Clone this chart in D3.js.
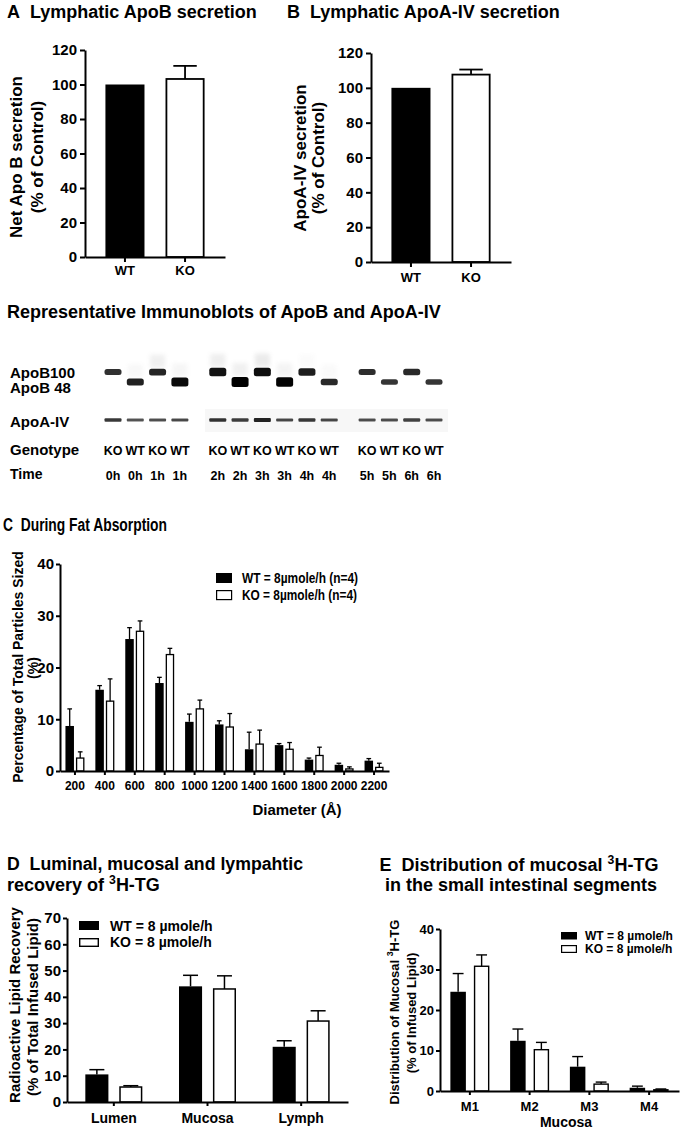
<!DOCTYPE html>
<html><head><meta charset="utf-8">
<script src="https://cdn.jsdelivr.net/npm/d3@7"></script>
<style>
body{margin:0;background:#fff}
svg{display:block;background:#fff}
text{font-family:"Liberation Sans",Arial,Helvetica,sans-serif;font-weight:bold;fill:#000;white-space:pre}
text.narrow{font-family:"Liberation Sans Narrow","Arial Narrow","Liberation Sans",Arial,sans-serif}
</style></head><body>
<svg id="fig" width="688" height="1132"></svg>
<script>
// ---------------- DATA ----------------
// Panels A & B
const abGroups = ["WT", "KO"];
const apoBSecretion = [100, 103.2];
const apoBSecretionErr = [0, 7.6];
const apoA4Secretion = [100, 107.6];
const apoA4SecretionErr = [0, 2.9];
const abTicks = [0, 20, 40, 60, 80, 100, 120];

// Immunoblot lanes
const laneGenotype = ["KO","WT","KO","WT","KO","WT","KO","WT","KO","WT","KO","WT","KO","WT"];
const laneTime = ["0h","0h","1h","1h","2h","2h","3h","3h","4h","4h","5h","5h","6h","6h"];
const laneGel = [0,0,0,0,1,1,1,1,1,1,2,2,2,2];
const apoBSignal = [0.35, 0.55, 0.5, 0.85, 0.75, 1.0, 0.8, 0.95, 0.6, 0.45, 0.4, 0.3, 0.45, 0.3];
const apoBSmear = [0, 0.2, 0.4, 0.25, 0.45, 0.4, 0.55, 0.3, 0.1, 0.15, 0, 0, 0, 0];
const apoA4Signal = [0.6, 0.35, 0.4, 0.45, 0.65, 0.55, 0.8, 0.45, 0.6, 0.45, 0.4, 0.4, 0.5, 0.4];

// Panel C
const diameters = ["200","400","600","800","1000","1200","1400","1600","1800","2000","2200"];
const wtSize = [8.7, 15.7, 25.5, 17.0, 9.5, 9.0, 4.2, 5.0, 2.2, 1.2, 2.0];
const wtSizeErr = [3.3, 0.8, 2.2, 1.1, 1.5, 0.7, 3.3, 0.3, 0.3, 0.3, 0.4];
const koSize = [2.5, 13.5, 27.0, 22.5, 12.0, 8.5, 5.2, 4.2, 3.0, 0.4, 0.7];
const koSizeErr = [1.2, 4.3, 2.0, 1.2, 1.7, 2.6, 2.7, 1.3, 1.6, 0.4, 0.8];
const sizeTicks = [0, 10, 20, 30, 40];

// Panel D
const recoveryCats = ["Lumen", "Mucosa", "Lymph"];
const wtRecovery = [10.5, 44.0, 21.0];
const wtRecoveryErr = [1.8, 4.2, 2.3];
const koRecovery = [5.7, 43.0, 30.8];
const koRecoveryErr = [0.5, 5.0, 3.9];
const recoveryTicks = [0, 10, 20, 30, 40, 50, 60, 70];

// Panel E
const segments = ["M1", "M2", "M3", "M4"];
const wtSegment = [24.5, 12.4, 6.0, 0.8];
const wtSegmentErr = [4.5, 2.9, 2.5, 0.4];
const koSegment = [30.8, 10.2, 1.7, 0.3];
const koSegmentErr = [2.8, 1.8, 0.5, 0.2];
const segmentTicks = [0, 10, 20, 30, 40];

// ---------------- DRAWING ----------------
const NB = "\u00a0\u00a0";
const svg = d3.select("#fig");
const defs = svg.append("defs");
defs.append("filter").attr("id","blur").attr("x","-30%").attr("y","-100%").attr("width","160%").attr("height","300%")
  .append("feGaussianBlur").attr("stdDeviation", 0.7);
defs.append("filter").attr("id","blur2").attr("x","-30%").attr("y","-100%").attr("width","160%").attr("height","300%")
  .append("feGaussianBlur").attr("stdDeviation", 2.2);

function txt(g, x, y, s, size, o = {}) {
  const t = g.append("text").attr("x", x).attr("y", y).attr("font-size", size);
  if (o.anchor) t.attr("text-anchor", o.anchor);
  if (o.cls) t.attr("class", o.cls);
  if (o.len) t.attr("textLength", o.len).attr("lengthAdjust", "spacingAndGlyphs");
  if (o.rot) t.attr("transform", `rotate(-90 ${x} ${y})`).attr("dy", "0.36em");
  if (Array.isArray(s)) {
    s.forEach(p => {
      const ts = t.append("tspan").text(p.t);
      if (p.sup) ts.attr("dy", -size * 0.4).attr("font-size", size * 0.68);
      if (p.after) ts.attr("dy", size * 0.4);
    });
  } else t.text(s);
  return t;
}

function axes(g, x, y, ticks, o) {
  const gy = g.append("g").attr("transform", `translate(${o.left},0)`)
    .call(d3.axisLeft(y).tickValues(ticks).tickSize(o.tick).tickSizeOuter(0).tickPadding(o.pad));
  gy.attr("font-size", o.yFont);
  gy.select(".domain").attr("stroke-width", o.sw).attr("stroke", "#000");
  gy.selectAll(".tick line").attr("stroke-width", o.sw).attr("stroke", "#000");
  gy.selectAll(".tick text").attr("fill", "#000");
  if (o.yNarrow) gy.selectAll(".tick text").attr("class", "narrow");
  const gx = g.append("g").attr("transform", `translate(0,${y(0)})`)
    .call(d3.axisBottom(x).tickSize(o.tick).tickSizeOuter(0).tickPadding(o.xpad));
  gx.attr("font-size", o.xFont);
  gx.select(".domain").attr("stroke-width", o.sw).attr("stroke", "#000");
  gx.selectAll(".tick line").attr("stroke-width", o.sw).attr("stroke", "#000");
  gx.selectAll(".tick text").attr("fill", "#000");
  gy.raise();
}

function bars(g, series, x0, x1, y, o) {
  series.forEach(s => {
    const gs = g.append("g");
    s.values.forEach((v, i) => {
      const cat = x0.domain()[i];
      const bx = x0(cat) + x1(s.name);
      const bw = x1.bandwidth();
      const fill = s.fill(i);
      gs.append("rect")
        .attr("x", bx + (fill === "#000" ? 0 : o.sw / 2))
        .attr("y", y(v))
        .attr("width", bw - (fill === "#000" ? 0 : o.sw))
        .attr("height", y(0) - y(v))
        .attr("fill", fill)
        .attr("stroke", fill === "#000" ? "none" : "#000")
        .attr("stroke-width", o.sw);
      const e = s.errs[i];
      if (e > 0) {
        const cx = bx + bw / 2, cw = bw * o.cap;
        gs.append("line").attr("x1", cx).attr("x2", cx).attr("y1", y(v)).attr("y2", y(v + e))
          .attr("stroke", "#000").attr("stroke-width", o.esw);
        gs.append("line").attr("x1", cx - cw / 2).attr("x2", cx + cw / 2).attr("y1", y(v + e)).attr("y2", y(v + e))
          .attr("stroke", "#000").attr("stroke-width", o.esw);
      }
    });
  });
}

// ===== Panel A =====
(function () {
  const g = svg.append("g");
  txt(g, 7, 18, "A" + NB + "Lymphatic ApoB secretion", 18);
  const y = d3.scaleLinear().domain([0, 120]).range([257, 50]);
  const x = d3.scaleBand().domain(abGroups).range([85, 225]).paddingInner(0.35).paddingOuter(0.34);
  const x1 = d3.scaleBand().domain(["s"]).range([0, x.bandwidth()]);
  bars(g, [{ name: "s", values: apoBSecretion, errs: apoBSecretionErr, fill: i => i === 0 ? "#000" : "#fff" }], x, x1, y, { sw: 1.8, esw: 1.8, cap: 0.6 });
  axes(g, x, y, abTicks, { left: 85, tick: 5, pad: 3, xpad: 4, sw: 2, yFont: 15, xFont: 13 });
  txt(g, 16, 157, "Net Apo B secretion", 17, { anchor: "middle", rot: true });
  txt(g, 37, 157, "(% of Control)", 17, { anchor: "middle", rot: true });
})();

// ===== Panel B =====
(function () {
  const g = svg.append("g");
  txt(g, 287, 18, "B" + NB + "Lymphatic ApoA-IV secretion", 18);
  const y = d3.scaleLinear().domain([0, 120]).range([262, 53]);
  const x = d3.scaleBand().domain(abGroups).range([371, 511]).paddingInner(0.35).paddingOuter(0.34);
  const x1 = d3.scaleBand().domain(["s"]).range([0, x.bandwidth()]);
  bars(g, [{ name: "s", values: apoA4Secretion, errs: apoA4SecretionErr, fill: i => i === 0 ? "#000" : "#fff" }], x, x1, y, { sw: 1.8, esw: 1.8, cap: 0.6 });
  axes(g, x, y, abTicks, { left: 371, tick: 5, pad: 3, xpad: 6, sw: 2, yFont: 15, xFont: 13 });
  txt(g, 300, 158, "ApoA-IV secretion", 17, { anchor: "middle", rot: true });
  txt(g, 318, 158, "(% of Control)", 17, { anchor: "middle", rot: true });
})();

// ===== Immunoblots =====
(function () {
  const g = svg.append("g");
  txt(g, 7, 318, "Representative Immunoblots of ApoB and ApoA-IV", 18);
  txt(g, 10, 378, "ApoB100", 15);
  txt(g, 10, 393, "ApoB 48", 15);
  txt(g, 10, 427, "ApoA-IV", 15);
  txt(g, 10, 455, "Genotype", 15);
  txt(g, 10, 479, "Time", 14);
  const slot = laneGenotype.map((d, i) => i + laneGel[i] * 0.7);
  const xl = d3.scaleLinear().domain([0, 14.4]).range([113, 434]);
  const row = d3.scaleOrdinal().domain(["KO", "WT"]).range([372, 382]);
  const thick = d3.scaleLinear().domain([0, 1]).range([3.5, 10]);
  const thickA = d3.scaleLinear().domain([0, 1]).range([2.2, 4.5]);
  g.append("rect").attr("x", 205).attr("y", 409).attr("width", 243).attr("height", 23).attr("fill", "#f7f7f7");
  const lanes = g.append("g");
  laneGenotype.forEach((gt, i) => {
    const cx = xl(slot[i]);
    const cy = row(gt);
    const h = thick(apoBSignal[i]);
    if (apoBSmear[i] > 0) {
      lanes.append("rect").attr("x", cx - 7.5).attr("y", cy - h / 2 - 14).attr("width", 15).attr("height", 13)
        .attr("fill", "#888").attr("opacity", apoBSmear[i] * 0.3).attr("filter", "url(#blur2)");
    }
    lanes.append("rect").attr("x", cx - 8.5).attr("y", cy - h / 2).attr("width", 17).attr("height", h)
      .attr("rx", 2.5).attr("fill", "#000").attr("opacity", 0.7 + apoBSignal[i] * 0.3).attr("filter", "url(#blur)");
    const ha = thickA(apoA4Signal[i]);
    lanes.append("rect").attr("x", cx - 8.5).attr("y", 420 - ha / 2).attr("width", 17).attr("height", ha)
      .attr("rx", 1).attr("fill", "#111").attr("opacity", 0.55 + apoA4Signal[i] * 0.45).attr("filter", "url(#blur)");
    txt(g, cx, 455, gt, 12.5, { anchor: "middle" });
    txt(g, cx, 480, laneTime[i], 12.5, { anchor: "middle" });
  });
})();

// ===== Panel C =====
(function () {
  const g = svg.append("g");
  txt(g, 3, 531, "C" + NB + "During Fat Absorption", 18, { cls: "narrow", len: 164 });
  const y = d3.scaleLinear().domain([0, 40]).range([771, 564]);
  const x0 = d3.scaleBand().domain(diameters).range([60, 389]).padding(0);
  const half = 9.5;
  const x1 = d3.scaleBand().domain(["WT", "KO"]).range([x0.bandwidth() / 2 - half, x0.bandwidth() / 2 + half]).paddingInner(0.19);
  bars(g, [
    { name: "WT", values: wtSize, errs: wtSizeErr, fill: () => "#000" },
    { name: "KO", values: koSize, errs: koSizeErr, fill: () => "#fff" }
  ], x0, x1, y, { sw: 1.3, esw: 1.3, cap: 0.55 });
  axes(g, x0, y, sizeTicks, { left: 60, tick: 4, pad: 2, xpad: 6, sw: 2, yFont: 15, xFont: 12, yNarrow: true });
  txt(g, 18, 667, "Percentage of Total Particles Sized", 14, { anchor: "middle", rot: true });
  txt(g, 33, 668, "(%)", 14, { anchor: "middle", rot: true });
  txt(g, 297, 815, "Diameter (Å)", 15, { anchor: "middle" });
  const lg = g.append("g");
  lg.append("rect").attr("x", 216).attr("y", 573).attr("width", 16).attr("height", 10).attr("fill", "#000");
  lg.append("rect").attr("x", 216.6).attr("y", 590.6).attr("width", 15).attr("height", 9).attr("fill", "#fff").attr("stroke", "#000").attr("stroke-width", 1.2);
  txt(lg, 242, 583, "WT = 8µmole/h (n=4)", 15, { cls: "narrow", len: 116 });
  txt(lg, 242, 600, "KO = 8µmole/h (n=4)", 15, { cls: "narrow", len: 115 });
})();

// ===== Panel D =====
(function () {
  const g = svg.append("g");
  txt(g, 7, 870, "D" + NB + "Luminal, mucosal and lympahtic", 18, { len: 296 });
  txt(g, 7, 891, [{ t: "recovery of " }, { t: "3", sup: true }, { t: "H-TG", after: true }], 18);
  const y = d3.scaleLinear().domain([0, 70]).range([1102, 918]);
  const x0 = d3.scaleBand().domain(recoveryCats).range([67, 348]).padding(0);
  const half = 28.5;
  const x1 = d3.scaleBand().domain(["WT", "KO"]).range([x0.bandwidth() / 2 - half, x0.bandwidth() / 2 + half]).paddingInner(0.32);
  bars(g, [
    { name: "WT", values: wtRecovery, errs: wtRecoveryErr, fill: () => "#000" },
    { name: "KO", values: koRecovery, errs: koRecoveryErr, fill: () => "#fff" }
  ], x0, x1, y, { sw: 1.5, esw: 1.5, cap: 0.65 });
  axes(g, x0, y, recoveryTicks, { left: 67, tick: 4, pad: 2, xpad: 7, sw: 2, yFont: 15, xFont: 14 });
  txt(g, 15, 1005, "Radioactive Lipid Recovery", 15, { anchor: "middle", rot: true });
  txt(g, 33, 1007, "(% of Total Infused Lipid)", 15, { anchor: "middle", rot: true });
  const lg = g.append("g");
  lg.append("rect").attr("x", 79).attr("y", 921).attr("width", 20).attr("height", 9).attr("fill", "#000");
  lg.append("rect").attr("x", 79.7).attr("y", 938.7).attr("width", 18.6).attr("height", 7.6).attr("fill", "#fff").attr("stroke", "#000").attr("stroke-width", 1.4);
  txt(lg, 110, 931, "WT = 8 µmole/h", 14);
  txt(lg, 110, 947, "KO = 8 µmole/h", 14);
})();

// ===== Panel E =====
(function () {
  const g = svg.append("g");
  txt(g, 519, 871, [{ t: "E" + NB + "Distribution of mucosal " }, { t: "3", sup: true }, { t: "H-TG", after: true }], 18, { anchor: "middle" });
  txt(g, 521, 891, "in the small intestinal segments", 18, { anchor: "middle" });
  const y = d3.scaleLinear().domain([0, 40]).range([1091, 929]);
  const x0 = d3.scaleBand().domain(segments).range([440, 679]).padding(0);
  const half = 19.5;
  const x1 = d3.scaleBand().domain(["WT", "KO"]).range([x0.bandwidth() / 2 - half, x0.bandwidth() / 2 + half]).paddingInner(0.34);
  bars(g, [
    { name: "WT", values: wtSegment, errs: wtSegmentErr, fill: () => "#000" },
    { name: "KO", values: koSegment, errs: koSegmentErr, fill: () => "#fff" }
  ], x0, x1, y, { sw: 1.4, esw: 1.4, cap: 0.7 });
  axes(g, x0, y, segmentTicks, { left: 440, tick: 4, pad: 2, xpad: 7, sw: 2, yFont: 13, xFont: 13 });
  txt(g, 394, 1012, [{ t: "Distribution of Mucosal " }, { t: "3", sup: true }, { t: "H-TG", after: true }], 13, { anchor: "middle", rot: true });
  txt(g, 411, 1013, "(% of Infused Lipid)", 13, { anchor: "middle", rot: true });
  txt(g, 566, 1127, "Mucosa", 14, { anchor: "middle" });
  const lg = g.append("g");
  lg.append("rect").attr("x", 561).attr("y", 932).attr("width", 16).attr("height", 7.5).attr("fill", "#000");
  lg.append("rect").attr("x", 561.6).attr("y", 945.6).attr("width", 14.8).attr("height", 6.8).attr("fill", "#fff").attr("stroke", "#000").attr("stroke-width", 1.2);
  txt(lg, 585, 940, "WT = 8 µmole/h", 12);
  txt(lg, 585, 953, "KO = 8 µmole/h", 12);
})();
</script>
</body></html>
